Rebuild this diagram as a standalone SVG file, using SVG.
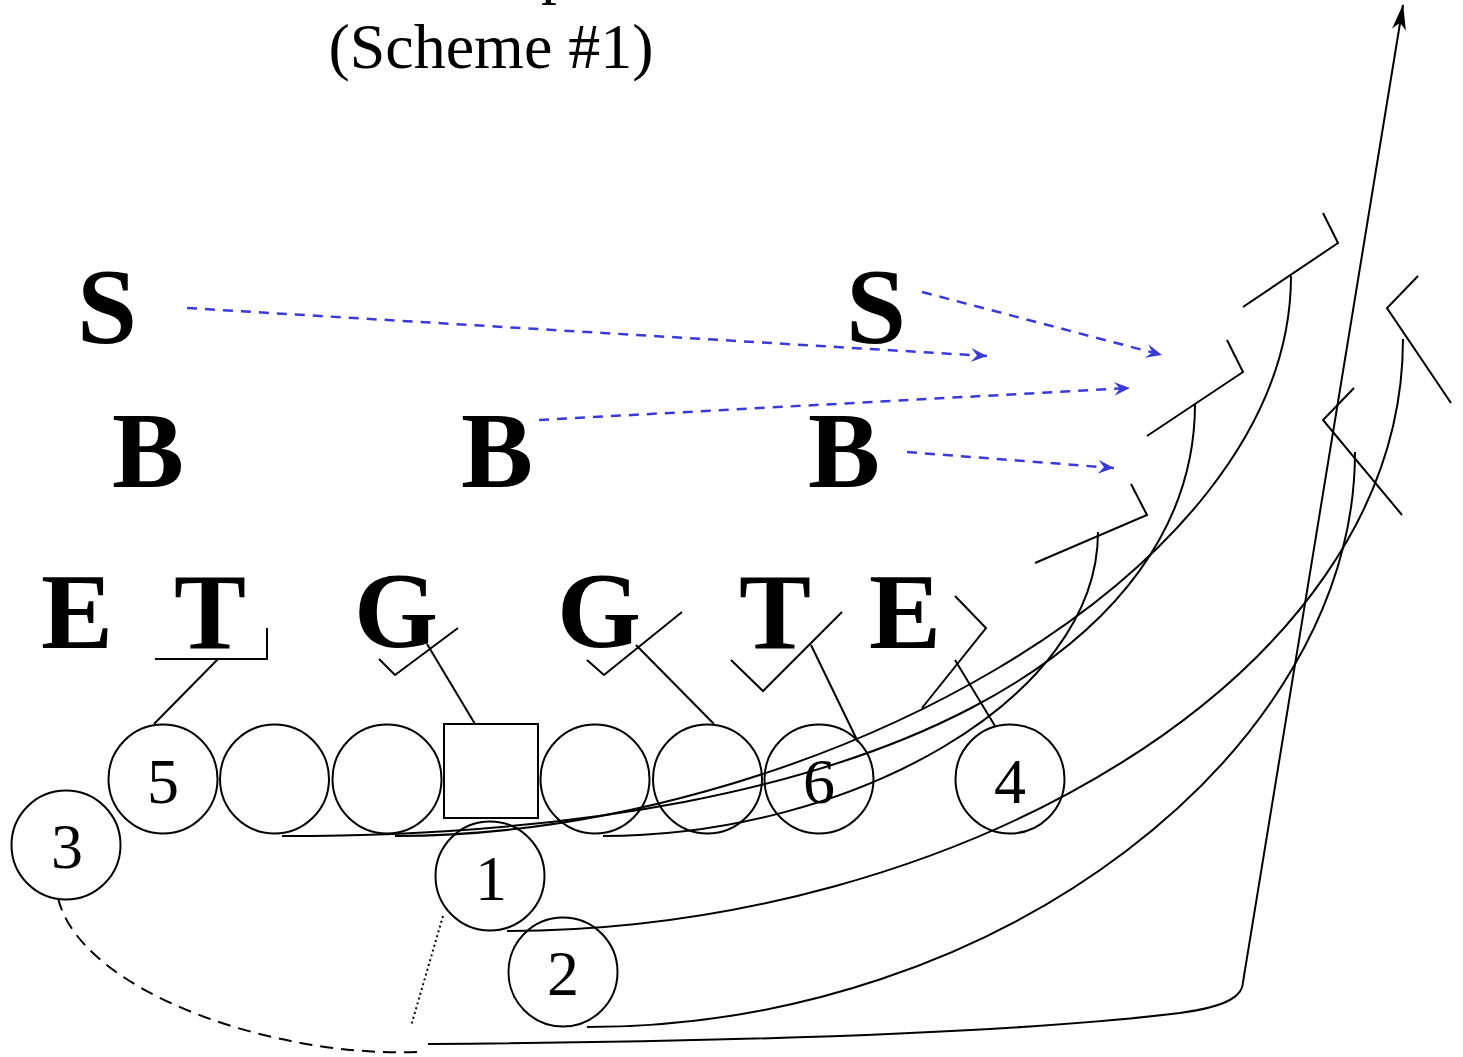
<svg xmlns="http://www.w3.org/2000/svg" width="1463" height="1057" viewBox="0 0 1463 1057">
<style>
.ln{fill:none;stroke:#000;stroke-width:2;stroke-linejoin:miter;stroke-linecap:butt}
.pl{fill:none;stroke:#000;stroke-width:2}
.bl{fill:none;stroke:#3a3ad4;stroke-width:2.5;stroke-dasharray:10 8}
.def{font-family:"Liberation Serif","Times New Roman",serif;font-weight:bold;font-size:108px;text-anchor:middle;fill:#000}
.num{font-family:"Liberation Serif","Times New Roman",serif;font-size:64px;text-anchor:middle;fill:#000}
.ttl{font-family:"Liberation Serif","Times New Roman",serif;font-size:64px;fill:#000}
</style>
<defs>
<marker id="ab" markerUnits="userSpaceOnUse" orient="auto" overflow="visible" markerWidth="20" markerHeight="20">
<path d="M0,0 L-16,-7 L-10,0 L-16,7 Z" fill="#3a3ad4"/>
</marker>
<marker id="ak" markerUnits="userSpaceOnUse" orient="auto" overflow="visible" markerWidth="30" markerHeight="30">
<path d="M1,0 L-25,-7 L-18,0 L-25,7 Z" fill="#000"/>
</marker>
</defs>
<rect width="1463" height="1057" fill="#fff"/>
<g id="title">
<text class="ttl" x="541" y="-9">p</text>
<text class="ttl" x="491" y="68" text-anchor="middle">(Scheme #1)</text>
</g>
<g id="defense">
<g id="S1"><text class="def" x="107" y="343">S</text></g>
<g id="S2"><text class="def" x="876" y="343">S</text></g>
<g id="B1"><text class="def" x="148" y="487">B</text></g>
<g id="B2"><text class="def" x="497" y="487">B</text></g>
<g id="B3"><text class="def" x="844" y="487">B</text></g>
<g id="E1"><text class="def" x="77" y="648">E</text></g>
<g id="T1"><text class="def" x="210" y="648">T</text></g>
<g id="G1"><text class="def" x="396" y="647">G</text></g>
<g id="G2"><text class="def" x="599" y="647">G</text></g>
<g id="T2"><text class="def" x="775" y="648">T</text></g>
<g id="E2"><text class="def" x="905" y="648">E</text></g>
</g>
<g id="offense" fill="none" stroke="#000" stroke-width="2">
<g id="p5"><circle cx="163" cy="779" r="54.5"/><text class="num" x="163" y="803" stroke="none">5</text></g>
<g id="lt"><circle cx="274.5" cy="779" r="54.5"/></g>
<g id="lg"><circle cx="387" cy="779" r="54.5"/></g>
<g id="center"><rect x="444" y="724" width="94" height="94"/></g>
<g id="rg"><circle cx="595" cy="779" r="54.5"/></g>
<g id="rt"><circle cx="707.5" cy="779" r="54.5"/></g>
<g id="p6"><circle cx="819" cy="779" r="54.5"/><text class="num" x="819" y="803" stroke="none">6</text></g>
<g id="p4"><circle cx="1010" cy="779" r="54.5"/><text class="num" x="1010" y="803" stroke="none">4</text></g>
<g id="p3"><circle cx="66" cy="845" r="54.5"/><text class="num" x="67" y="868" stroke="none">3</text></g>
<g id="p1"><circle cx="490" cy="876" r="54.5"/><text class="num" x="491" y="900" stroke="none">1</text></g>
<g id="p2"><circle cx="563" cy="972" r="54.5"/><text class="num" x="563" y="995" stroke="none">2</text></g>
</g>
<g id="connectors">
<g id="blocks">
<polyline class="pl" points="155,659 267,659 267,628"/>
<line class="ln" x1="218" y1="659" x2="154" y2="724"/>
<polyline class="pl" points="379,659 395,675 458,628"/>
<line class="ln" x1="427" y1="644" x2="475" y2="724"/>
<polyline class="pl" points="587,660 604,675 682,612"/>
<line class="ln" x1="636" y1="645" x2="714" y2="724"/>
<polyline class="pl" points="731,660 763,691 842,612"/>
<line class="ln" x1="811" y1="645" x2="858" y2="742"/>
<polyline class="pl" points="955,596 986,628 922,708"/>
<line class="ln" x1="955" y1="660" x2="995" y2="726"/>
<polyline class="pl" points="1131,484 1147,515 1035,563"/>
<polyline class="pl" points="1227,340 1243,372 1147,436"/>
<polyline class="pl" points="1323,213 1338,243 1243,307"/>
<polyline class="pl" points="1418,276 1387,308 1451,403"/>
<polyline class="pl" points="1354,388 1323,420 1402,515"/>
</g>
<g id="routes">
<path class="ln" d="M395,836 C800,836 1291,580 1291,276"/>
<path class="ln" d="M282,836 C900,836 1195,640 1195,404"/>
<path class="ln" d="M603,836 C850,836 1098,700 1098,532"/>
<path class="ln" d="M507,931 C950,931 1403,680 1403,339"/>
<path class="ln" d="M587,1027 C1000,1027 1355,750 1355,452"/>
<path class="ln" d="M428,1044 C700,1042 1000,1035 1180,1013 C1230,1006 1243,995 1243,982 L1403,5" marker-end="url(#ak)"/>
<path class="ln" d="M58,898 C80,990 270,1058 420,1052" stroke-dasharray="13 8"/>
<path class="ln" d="M443,916 L411,1026" stroke-width="1.5" stroke-dasharray="2 3"/>
</g>
<g id="reads">
<path class="bl" d="M187,308 L987,356" marker-end="url(#ab)"/>
<path class="bl" d="M922,292 L1162,355" marker-end="url(#ab)"/>
<path class="bl" d="M539,420 L1130,388" marker-end="url(#ab)"/>
<path class="bl" d="M907,452 L1114,468" marker-end="url(#ab)"/>
</g>
</g>
</svg>
